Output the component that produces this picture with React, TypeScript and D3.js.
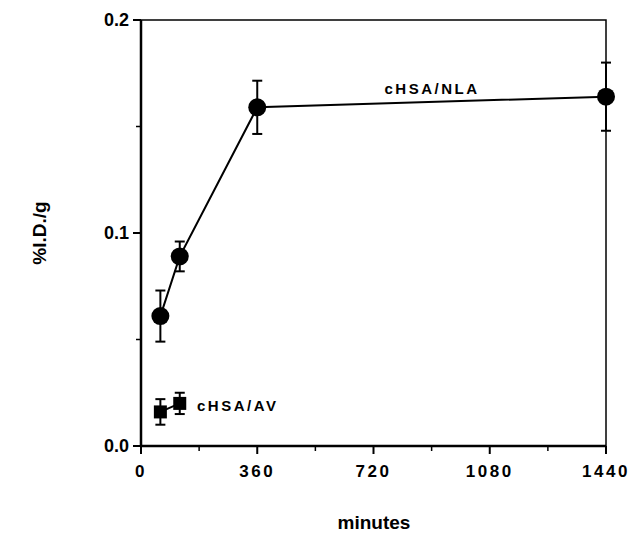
import React, { useEffect, useRef } from 'react';
import * as d3 from 'd3';

// time points (minutes)
const nlaTimes = [60, 120, 360, 1440];
const nlaValues = [0.061, 0.089, 0.159, 0.164];
const nlaErrors = [0.012, 0.007, 0.0125, 0.016];

const avTimes = [60, 120];
const avValues = [0.016, 0.02];
const avErrors = [0.006, 0.005];

const xTicks = [0, 360, 720, 1080, 1440];
const xMinorTicks = [180, 540, 900, 1260];
const yTicks = [0, 0.1, 0.2];
const yMinorTicks = [0.05, 0.15];

export default function App() {
  const ref = useRef<SVGSVGElement>(null);

  useEffect(() => {
    const svg = d3.select(ref.current);
    svg.selectAll('*').remove();

    const margin = { left: 141, right: 38, top: 20, bottom: 88 };
    const W = 644, H = 534;
    const x = d3.scaleLinear().domain([0, 1440]).range([margin.left, W - margin.right]);
    const y = d3.scaleLinear().domain([0, 0.2]).range([H - margin.bottom, margin.top]);
    const font = '"Liberation Sans", Arial, sans-serif';

    // frame
    svg.append('rect')
      .attr('x', x(0)).attr('y', y(0.2))
      .attr('width', x(1440) - x(0)).attr('height', y(0) - y(0.2))
      .attr('fill', 'none').attr('stroke', '#000').attr('stroke-width', 1.5);
    svg.append('line')
      .attr('x1', x(0)).attr('x2', x(0)).attr('y1', y(0.2)).attr('y2', y(0))
      .attr('stroke', '#000').attr('stroke-width', 2.5);
    svg.append('line')
      .attr('x1', x(0)).attr('x2', x(1440)).attr('y1', y(0)).attr('y2', y(0))
      .attr('stroke', '#000').attr('stroke-width', 2.5);

    // x axis
    const xAxis = svg.append('g');
    xAxis.selectAll('line.maj').data(xTicks).join('line')
      .attr('x1', d => x(d)).attr('x2', d => x(d))
      .attr('y1', y(0)).attr('y2', y(0) + 8)
      .attr('stroke', '#000').attr('stroke-width', 2);
    xAxis.selectAll('line.min').data(xMinorTicks).join('line')
      .attr('x1', d => x(d)).attr('x2', d => x(d))
      .attr('y1', y(0)).attr('y2', y(0) + 5)
      .attr('stroke', '#000').attr('stroke-width', 1.5);
    xAxis.selectAll('text').data(xTicks).join('text')
      .attr('x', d => x(d)).attr('y', y(0) + 31)
      .attr('text-anchor', 'middle')
      .attr('font-family', font).attr('font-weight', 'bold').attr('font-size', 17)
      .attr('letter-spacing', 2.5)
      .text(d => String(d));

    // y axis
    const yAxis = svg.append('g');
    yAxis.selectAll('line.maj').data(yTicks).join('line')
      .attr('x1', x(0) - 8).attr('x2', x(0))
      .attr('y1', d => y(d)).attr('y2', d => y(d))
      .attr('stroke', '#000').attr('stroke-width', 2);
    yAxis.selectAll('line.min').data(yMinorTicks).join('line')
      .attr('x1', x(0) - 5).attr('x2', x(0))
      .attr('y1', d => y(d)).attr('y2', d => y(d))
      .attr('stroke', '#000').attr('stroke-width', 1.5);
    yAxis.selectAll('text').data(yTicks).join('text')
      .attr('x', x(0) - 12).attr('y', d => y(d) + 6)
      .attr('text-anchor', 'end')
      .attr('font-family', font).attr('font-weight', 'bold').attr('font-size', 18)
      .text(d => d.toFixed(1));

    // axis titles
    svg.append('text')
      .attr('x', 374).attr('y', 529)
      .attr('text-anchor', 'middle')
      .attr('font-family', font).attr('font-weight', 'bold').attr('font-size', 19)
      .text('minutes');
    svg.append('text')
      .attr('transform', `translate(46,${y(0.1)}) rotate(-90)`)
      .attr('text-anchor', 'middle')
      .attr('font-family', font).attr('font-weight', 'bold').attr('font-size', 19)
      .text('%I.D./g');

    function drawSeries(times: number[], vals: number[], errs: number[], shape: 'circle' | 'square') {
      const pts = times.map((t, i) => ({ t, v: vals[i], e: errs[i] }));
      const g = svg.append('g');
      g.append('path')
        .datum(pts)
        .attr('fill', 'none').attr('stroke', '#000').attr('stroke-width', 2)
        .attr('d', d3.line<{ t: number; v: number }>().x(d => x(d.t)).y(d => y(d.v)));
      pts.forEach(p => {
        g.append('line')
          .attr('x1', x(p.t)).attr('x2', x(p.t))
          .attr('y1', y(p.v + p.e)).attr('y2', y(p.v - p.e))
          .attr('stroke', '#000').attr('stroke-width', 2);
        [p.v + p.e, p.v - p.e].forEach(v => {
          g.append('line')
            .attr('x1', x(p.t) - 5).attr('x2', x(p.t) + 5)
            .attr('y1', y(v)).attr('y2', y(v))
            .attr('stroke', '#000').attr('stroke-width', 2);
        });
        if (shape === 'circle') {
          g.append('circle').attr('cx', x(p.t)).attr('cy', y(p.v)).attr('r', 9).attr('fill', '#000');
        } else {
          g.append('rect')
            .attr('x', x(p.t) - 6.5).attr('y', y(p.v) - 6.5)
            .attr('width', 13).attr('height', 13).attr('fill', '#000');
        }
      });
    }

    drawSeries(nlaTimes, nlaValues, nlaErrors, 'circle');
    drawSeries(avTimes, avValues, avErrors, 'square');

    // series labels
    svg.append('text')
      .attr('x', 432).attr('y', 94)
      .attr('text-anchor', 'middle')
      .attr('font-family', font).attr('font-weight', 'bold').attr('font-size', 15)
      .attr('letter-spacing', 2.5)
      .text('cHSA/NLA');
    svg.append('text')
      .attr('x', 197).attr('y', 411)
      .attr('font-family', font).attr('font-weight', 'bold').attr('font-size', 15)
      .attr('letter-spacing', 2.5)
      .text('cHSA/AV');
  }, []);

  return (
    <svg ref={ref} width={644} height={534} style={{ position: 'absolute', left: 0, top: 0, background: '#fff' }} />
  );
}
